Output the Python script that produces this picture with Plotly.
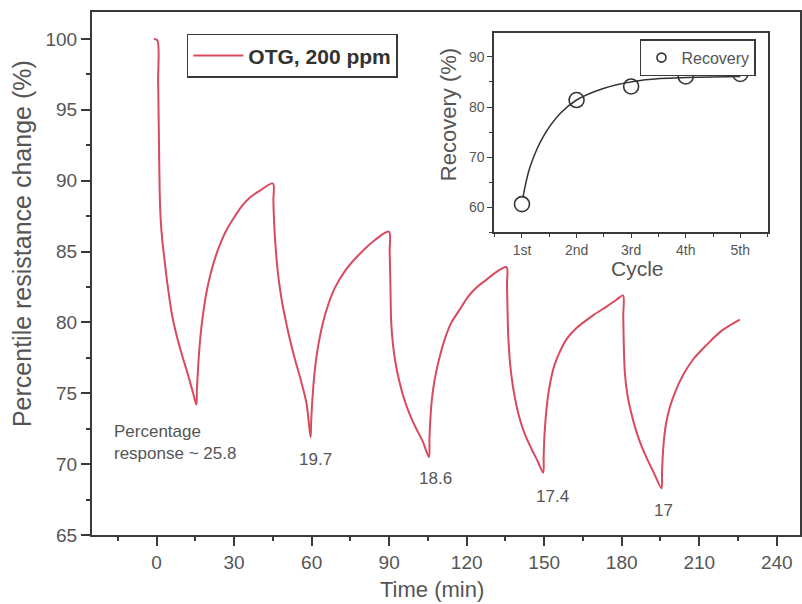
import plotly.graph_objects as go

# ---- main trace data ----
time_min = [-1.0, 0.3, 0.6, 0.9, 1.2, 1.6, 2.2, 3.0, 4.2, 6.0, 8.0, 10.0, 12.0, 14.0, 15.4,
            15.6, 16.0, 16.5, 17.3, 18.3, 19.5, 21.0, 23.1, 25.0, 27.0, 30.0, 33.0, 36.0, 40.0, 45.0,
            45.2, 45.4, 45.7, 46.1, 47.0, 48.4, 50.0, 52.1, 54.0, 56.0, 58.0, 59.6,
            59.8, 60.2, 60.8, 61.8, 63.0, 64.4, 66.5, 68.9, 72.8, 77.9, 84.4, 89.9,
            90.2, 90.5, 90.8, 91.5, 92.5, 94.0, 95.8, 98.0, 100.5, 103.0, 105.4,
            105.6, 105.9, 106.4, 107.2, 108.3, 109.6, 111.5, 114.1, 117.3, 120.5, 124.0, 127.6, 131.0, 135.4,
            135.6, 135.8, 136.1, 136.8, 137.8, 139.3, 141.0, 143.0, 145.3, 147.5, 149.6,
            149.8, 150.1, 150.6, 151.4, 152.5, 154.0, 156.0, 158.6, 162.5, 168.9, 174.0, 178.0, 180.5,
            180.6, 180.8, 181.2, 182.2, 183.7, 185.5, 187.6, 190.0, 192.4, 195.4,
            195.6, 195.9, 196.4, 197.2, 198.6, 200.5, 203.8, 207.7, 212.8, 218.6, 225.7]
resistance_pct = [100.0, 99.9, 97.0, 93.0, 89.2, 87.2, 85.8, 84.5, 82.7, 80.5, 78.9, 77.6, 76.4, 75.1, 74.2,
                  75.3, 76.6, 78.0, 79.6, 81.0, 82.3, 83.5, 84.8, 85.7, 86.5, 87.4, 88.2, 88.8, 89.3, 89.8,
                  88.6, 87.4, 86.3, 85.2, 83.4, 81.6, 80.1, 78.4, 77.1, 75.8, 74.3, 71.9,
                  72.9, 74.3, 75.8, 77.5, 78.8, 80.0, 81.3, 82.4, 83.6, 84.7, 85.8, 86.4,
                  85.0, 82.5, 80.0, 78.4, 77.1, 75.8, 74.6, 73.5, 72.5, 71.6, 70.5,
                  71.8, 73.0, 74.3, 75.5, 76.6, 77.6, 78.8, 80.0, 80.9, 81.8, 82.5, 83.0, 83.5, 83.9,
                  82.7, 81.0, 79.0, 77.1, 75.6, 74.1, 72.9, 71.9, 71.0, 70.2, 69.4,
                  70.6, 72.0, 73.3, 74.7, 75.9, 77.0, 77.9, 78.8, 79.6, 80.5, 81.1, 81.6, 81.9,
                  80.5, 78.5, 76.5, 74.9, 73.6, 72.4, 71.3, 70.3, 69.4, 68.3,
                  69.4, 70.6, 71.8, 72.9, 74.0, 75.0, 76.3, 77.4, 78.4, 79.4, 80.2]

x_ticks = [0, 30, 60, 90, 120, 150, 180, 210, 240]
y_ticks = [65, 70, 75, 80, 85, 90, 95, 100]

# response annotations
resp_labels = ["Percentage<br>response ~ 25.8", "19.7", "18.6", "17.4", "17"]
resp_x = [-17.4, 61.6, 108.0, 153.3, 196.3]
resp_y = [71.5, 70.3, 69.0, 67.7, 66.7]

# ---- inset data ----
cycles = [1, 2, 3, 4, 5]
cycle_labels = ["1st", "2nd", "3rd", "4th", "5th"]
recovery = [60.6, 81.4, 84.1, 86.1, 86.6]
fit_x = [1.02, 1.15, 1.39, 1.70, 2.0, 2.49, 3.04, 3.53, 4.02, 4.5, 5.0]
fit_y = [62.1, 68.1, 74.1, 78.7, 81.4, 83.7, 85.1, 85.7, 85.9, 86.0, 86.1]

FONT = "Liberation Sans, Arial, sans-serif"
AX = "#3a3a3a"
TXT = "#555555"
RED = "#d94a5f"

fig = go.Figure()
fig.add_trace(go.Scatter(x=time_min, y=resistance_pct, mode="lines",
                         line=dict(color=RED, width=2, shape="spline", smoothing=0.9),
                         name="OTG, 200 ppm", legend="legend"))
fig.add_trace(go.Scatter(x=fit_x, y=fit_y, mode="lines", xaxis="x2", yaxis="y2",
                         line=dict(color="#333333", width=1.5, shape="spline"),
                         showlegend=False))
fig.add_trace(go.Scatter(x=cycles, y=recovery, mode="markers", xaxis="x2", yaxis="y2",
                         marker=dict(symbol="circle-open", size=15, color="#333333",
                                     line=dict(width=1.6, color="#333333")),
                         showlegend=False))
# legend entry for the inset (small marker like the reference legend)
fig.add_trace(go.Scatter(x=[None], y=[None], mode="markers", xaxis="x2", yaxis="y2",
                         marker=dict(symbol="circle-open", size=9, color="#333333",
                                     line=dict(width=1.6, color="#333333")),
                         name="Recovery", legend="legend2"))

for txt, xx, yy in zip(resp_labels, resp_x, resp_y):
    fig.add_annotation(x=xx, y=yy, xref="x", yref="y", text=txt, showarrow=False,
                       xanchor="left" if "<br>" in txt else "center", align="left",
                       font=dict(family=FONT, size=17, color=TXT))

# axis titles
titles = [
    dict(text="Time (min)", x=0.480, y=-0.105, angle=0, size=22),
    dict(text="Percentile resistance change (%)", x=-0.099, y=0.558, angle=-90, size=25),
    dict(text="Recovery (%)", x=0.503, y=0.803, angle=-90, size=22),
    dict(text="Cycle", x=0.770, y=0.509, angle=0, size=21),
]
for t in titles:
    fig.add_annotation(x=t["x"], y=t["y"], xref="paper", yref="paper", text=t["text"],
                       showarrow=False, textangle=t["angle"], xanchor="center", yanchor="middle",
                       font=dict(family=FONT, size=t["size"], color=TXT))

fig.update_layout(
    width=802, height=604,
    margin=dict(l=92, r=2, t=12, b=69),
    paper_bgcolor="white", plot_bgcolor="white",
    font=dict(family=FONT, color=TXT),
    xaxis=dict(range=[-25, 249], tickvals=x_ticks, showgrid=False, zeroline=False, automargin=False,
               showline=True, linecolor=AX, linewidth=2, mirror=True,
               ticks="outside", ticklen=9, tickwidth=1.5, tickcolor=AX,
               minor=dict(dtick=15, tick0=0, ticks="outside", ticklen=4, tickcolor=AX, tickwidth=1.5),
               tickfont=dict(size=19, color=TXT)),
    yaxis=dict(range=[65, 101.9], tickvals=y_ticks, showgrid=False, zeroline=False, automargin=False,
               showline=True, linecolor=AX, linewidth=2, mirror=True,
               ticks="outside", ticklen=9, tickwidth=1.5, tickcolor=AX,
               minor=dict(dtick=2.5, tick0=65, ticks="outside", ticklen=4, tickcolor=AX, tickwidth=1.5),
               tickfont=dict(size=19, color=TXT)),
    xaxis2=dict(domain=[0.568, 0.955], anchor="y2", range=[0.49, 5.51], automargin=False,
                tickvals=cycles, ticktext=cycle_labels, showgrid=False, zeroline=False,
                showline=True, linecolor=AX, linewidth=1.5, mirror=True,
                ticks="outside", ticklen=4, tickwidth=1.2, tickcolor=AX,
                minor=dict(dtick=0.5, tick0=0.5, ticks="outside", ticklen=3, tickcolor=AX),
                tickfont=dict(size=14, color=TXT)),
    yaxis2=dict(domain=[0.579, 0.96], anchor="x2", range=[55, 94.8], automargin=False,
                tickvals=[60, 70, 80, 90], showgrid=False, zeroline=False,
                showline=True, linecolor=AX, linewidth=1.5, mirror=True,
                ticks="outside", ticklen=5, tickwidth=1.2, tickcolor=AX,
                minor=dict(dtick=5, tick0=55, ticks="outside", ticklen=3, tickcolor=AX),
                tickfont=dict(size=14, color=TXT)),
    legend=dict(x=0.134, y=0.958, xanchor="left", yanchor="top",
                bordercolor=AX, borderwidth=1.5, bgcolor="white",
                font=dict(family=FONT, size=21, color="#333333", weight="bold"),
                itemwidth=50, tracegroupgap=0),
    legend2=dict(x=0.774, y=0.948, xanchor="left", yanchor="top",
                 bordercolor=AX, borderwidth=1.5, bgcolor="white",
                 font=dict(family=FONT, size=16, color=TXT), itemwidth=30),
    showlegend=True,
)

fig.write_html("out.html", config={"displayModeBar": False},
               post_script="document.body.style.margin='0px';")
